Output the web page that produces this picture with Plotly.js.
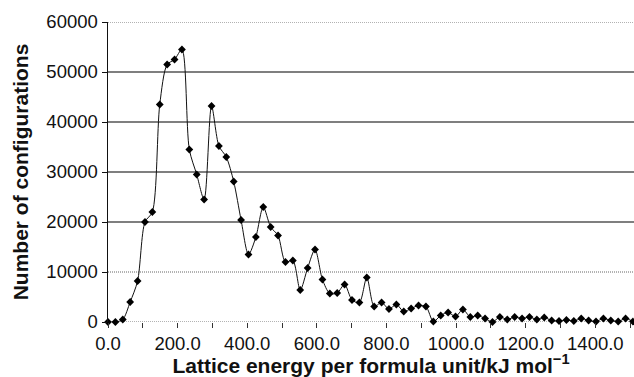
<!DOCTYPE html>
<html>
<head>
<meta charset="utf-8">
<script src="https://cdn.plot.ly/plotly-3.0.1.min.js"></script>
<style>html,body{margin:0;padding:0;background:#fff;}#chart{width:634px;height:377px;}</style>
</head>
<body>
<div id="chart"></div>
<script>
// Bin centres (kJ/mol) and counts
const latticeEnergy = [0, 21.2, 42.5, 63.7, 85.0, 106.2, 127.4, 148.7, 169.9, 191.2, 212.4, 233.6, 254.9, 276.1, 297.4, 318.6, 339.8, 361.1, 382.3, 403.6, 424.8, 446.0, 467.3, 488.5, 509.8, 531.0, 552.2, 573.5, 594.7, 616.0, 637.2, 658.4, 679.7, 700.9, 722.2, 743.4, 764.6, 785.9, 807.1, 828.4, 849.6, 870.8, 892.1, 913.3, 934.6, 955.8, 977.0, 998.3, 1019.5, 1040.8, 1062.0, 1083.2, 1104.5, 1125.7, 1147.0, 1168.2, 1189.4, 1210.7, 1231.9, 1253.2, 1274.4, 1295.6, 1316.9, 1338.1, 1359.4, 1380.6, 1401.8, 1423.1, 1444.3, 1465.6, 1486.8, 1508.0];
const configurations = [0, 0, 500, 4000, 8200, 20000, 22000, 43500, 51500, 52500, 54500, 34500, 29500, 24500, 43200, 35200, 33000, 28100, 20400, 13500, 17000, 23000, 19000, 17300, 12000, 12300, 6400, 10800, 14500, 8500, 5700, 5800, 7500, 4400, 3900, 8900, 3100, 3900, 2600, 3500, 2100, 2700, 3300, 3100, 100, 1300, 1900, 1100, 2500, 1000, 1300, 700, 0, 1000, 500, 1000, 700, 1000, 500, 900, 300, 200, 400, 200, 700, 300, 100, 700, 300, 100, 700, 100];
const xTickVals = [0, 200, 400, 600, 800, 1000, 1200, 1400];
const xTickText = ["0.0", "200.0", "400.0", "600.0", "800.0", "1000.0", "1200.0", "1400.0"];
const yTickVals = [0, 10000, 20000, 30000, 40000, 50000, 60000];
const dottedLines = [0, 10000, 60000];
const solidLines = [20000, 30000, 40000, 50000];

const FONT = "Liberation Sans, Arial, Helvetica, sans-serif";

const shapes = [];
solidLines.forEach(v => shapes.push({type:'line', xref:'paper', yref:'y', x0:0, x1:1, y0:v, y1:v, layer:'below', line:{color:'#555', width:1.3}}));
dottedLines.forEach(v => shapes.push({type:'line', xref:'paper', yref:'y', x0:0, x1:1, y0:v, y1:v, layer:'below', line:{color:'#666', width:1, dash:'1px,1px'}}));

const trace = {
  x: latticeEnergy,
  y: configurations,
  type: 'scatter',
  mode: 'lines+markers',
  line: {color:'#111', width:1, shape:'spline', smoothing:0.8},
  marker: {symbol:'diamond', size:6, color:'#000'},
  cliponaxis: false,
  hoverinfo: 'x+y'
};

const layout = {
  width: 634, height: 377,
  margin: {l:108, r:0, t:22, b:55, pad:0},
  paper_bgcolor: '#fff', plot_bgcolor: '#fff',
  showlegend: false,
  font: {family: FONT, color:'#111', size:18},
  xaxis: {
    range: [0, 1511],
    tickmode: 'array', tickvals: xTickVals, ticktext: xTickText,
    ticks: 'outside', ticklen: 5, tickcolor: '#333', tickwidth: 1,
    minor: {dtick: 100, tick0: 0, ticks: 'outside', ticklen: 5, tickcolor: '#333', showgrid: false},
    showgrid: false, zeroline: false, showline: false,
    tickfont: {family: FONT, size: 18.5, color:'#111'},
    title: {text: 'Lattice energy per formula unit/kJ mol<sup>−1</sup>', font: {family: FONT, size: 21, color:'#111', weight: 'bold'}, standoff: 4}
  },
  yaxis: {
    range: [0, 60000],
    tickmode: 'array', tickvals: yTickVals, tickformat: 'd',
    ticks: 'outside', ticklen: 5, tickcolor: '#111', tickwidth: 1,
    showgrid: false, zeroline: false,
    showline: true, linecolor: '#111', linewidth: 1.5,
    tickfont: {family: FONT, size: 18.5, color:'#111'},
    title: {text: 'Number of configurations', font: {family: FONT, size: 21, color:'#111', weight: 'bold'}, standoff: 12}
  },
  shapes: shapes
};

Plotly.newPlot('chart', [trace], layout, {displayModeBar:false, staticPlot:true});
</script>
</body>
</html>
